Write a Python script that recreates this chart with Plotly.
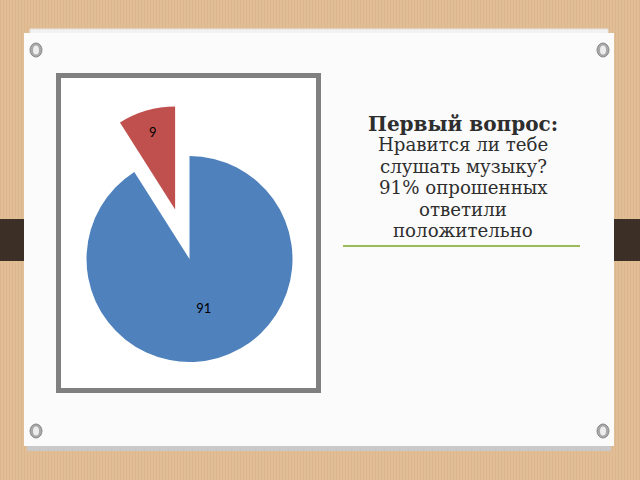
import plotly.graph_objects as go

# ---- data ----
slice_labels = ["Да", "Нет"]
slice_values = [91, 9]
slice_colors = ["#4F81BD", "#C0504D"]
slice_pull = [0, 0.5]

text_lines = [
    "<b>Первый вопрос:</b>",
    "Нравится ли тебе",
    "слушать музыку?",
    "91% опрошенных",
    "ответили",
    "положительно",
]
text_sizes = [20, 18.2, 18.2, 18.2, 18.2, 18.2]

W, H = 640, 480


def X(px):
    return px / W


def Y(py):
    return 1 - py / H


def rect(x0, y0, x1, y1, fill=None, line_color=None, line_width=0, layer="below", shape="rect"):
    d = dict(type=shape, xref="paper", yref="paper",
             x0=X(x0), x1=X(x1), y0=Y(y1), y1=Y(y0), layer=layer,
             line=dict(width=line_width, color=line_color or "rgba(0,0,0,0)"))
    if fill:
        d["fillcolor"] = fill
    return d


shapes = []
# subtle vertical stripes of the wooden background
for sx in range(0, 640, 3):
    shapes.append(rect(sx, 0, sx + 1, 480, fill="rgba(180,130,80,0.10)"))
# dark band across the background
shapes.append(rect(0, 219, 640, 261, fill="#3B2F26"))
# card shadow + back sheet
shapes.append(rect(27, 440, 611, 451, fill="#C9C9C9"))
shapes.append(rect(30, 29, 608, 40, fill="#F2F2F2", line_color="#E2E2E2", line_width=1))
# white card
shapes.append(rect(24, 33, 614, 446, fill="#FBFBFB"))
# chart frame
shapes.append(rect(58.5, 75.5, 318.5, 390.5, fill="#FFFFFF", line_color="#808080", line_width=5))
# green rule under text
shapes.append(rect(343, 245, 580, 247, fill="#9BBB59"))
# pins
for cx, cy in [(36, 50), (603, 50), (36, 431), (603, 431)]:
    shapes.append(rect(cx - 6, cy - 7, cx + 6, cy + 7, fill="#A8A8A8",
                       line_color="#8A8A8A", line_width=1, shape="circle"))
    shapes.append(rect(cx - 3, cy - 4.5, cx + 3, cy + 4.5, fill="#EDEDED",
                       line_color="#D0D0D0", line_width=0, shape="circle"))

# pie geometry (center 189.5,259 ; radius 103 with pull 0.5 -> half box 154.5)
pcx, pcy, half = 189.5, 259, 154.5

fig = go.Figure(go.Pie(
    labels=slice_labels,
    values=slice_values,
    marker=dict(colors=slice_colors, line=dict(width=0)),
    pull=slice_pull,
    sort=False,
    direction="clockwise",
    rotation=0,
    textinfo="value",
    textposition="inside",
    insidetextorientation="horizontal",
    textfont=dict(family="Lato", size=13, color="#000000"),
    hoverinfo="label+value",
    showlegend=False,
    domain=dict(x=[X(pcx - half), X(pcx + half)], y=[Y(pcy + half), Y(pcy - half)]),
))

annotations = []
y0 = 123.5
for i, line in enumerate(text_lines):
    annotations.append(dict(
        x=X(463), y=Y(y0 + 21.4 * i), xref="paper", yref="paper",
        text=line, showarrow=False, xanchor="center", yanchor="middle",
        font=dict(family="DejaVu Serif", size=text_sizes[i], color="#2E2E2E"),
    ))

fig.update_layout(
    width=W, height=H,
    margin=dict(l=0, r=0, t=0, b=0),
    paper_bgcolor="#E1BE95",
    plot_bgcolor="#E1BE95",
    shapes=shapes,
    annotations=annotations,
)

fig.write_html("out.html", config={"displayModeBar": False},
               post_script="document.body.style.margin='0';document.body.style.overflow='hidden';")
